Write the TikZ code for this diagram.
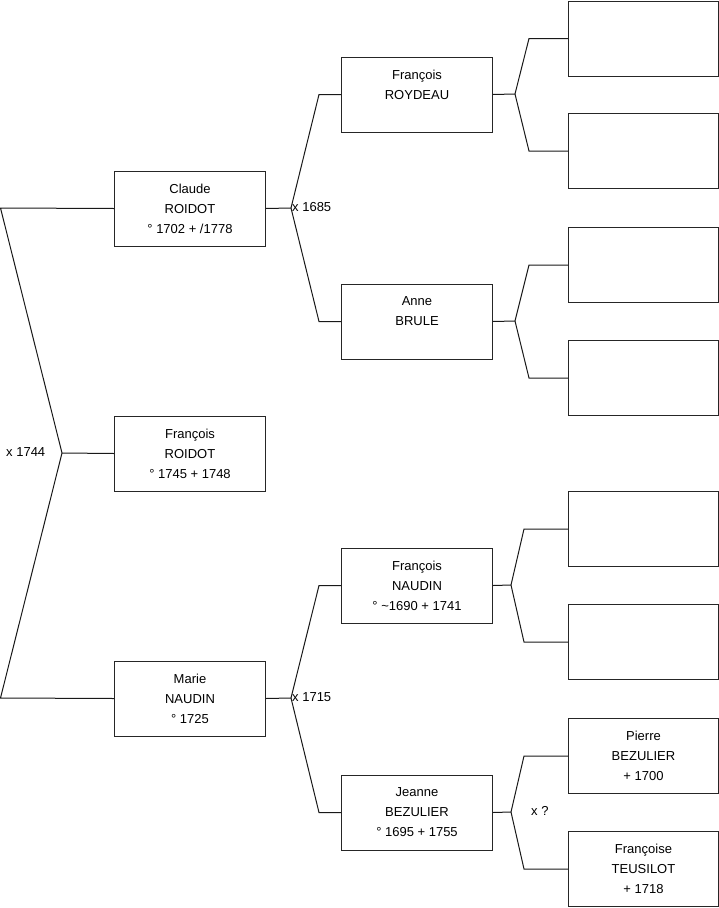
\documentclass[tikz,border=0pt]{standalone}
\usepackage{fontspec}
\setmainfont{Liberation Sans}
\begin{document}
\begin{tikzpicture}[x=1pt,y=-1pt,
  person/.style={draw=black!85, line width=1pt, minimum width=151pt, minimum height=75pt,
    anchor=north west, inner sep=0pt, align=center, font=\fontsize{13}{20}\selectfont},
  link/.style={draw=black!90, line width=1pt},
  lab/.style={anchor=west, inner sep=0pt, font=\fontsize{13}{15}\selectfont}]
\useasboundingbox (0,0) rectangle (719,908);
% generation 1
\node[person] (claude) at (114,170.5) {Claude\\ROIDOT\\° 1702 + /1778};
\node[person] (froidot) at (114,415.5) {François\\ROIDOT\\° 1745 + 1748};
\node[person] (marie) at (114,660.5) {Marie\\NAUDIN\\° 1725};
% generation 2
\node[person] (roydeau) at (341,56.5) {François\\ROYDEAU\\\mbox{}};
\node[person] (brule) at (341,283.5) {Anne\\BRULE\\\mbox{}};
\node[person] (fnaudin) at (341,547.5) {François\\NAUDIN\\° \textasciitilde1690 + 1741};
\node[person] (jeanne) at (341,774.5) {Jeanne\\BEZULIER\\° 1695 + 1755};
% generation 3
\node[person, minimum width=150pt] (r1) at (568,0.5) {};
\node[person, minimum width=150pt] (r2) at (568,113) {};
\node[person, minimum width=150pt] (r3) at (568,227) {};
\node[person, minimum width=150pt] (r4) at (568,340) {};
\node[person, minimum width=150pt] (r5) at (568,491) {};
\node[person, minimum width=150pt] (r6) at (568,604) {};
\node[person, minimum width=150pt] (pierre) at (568,718) {Pierre\\BEZULIER\\+ 1700};
\node[person, minimum width=150pt] (francoise) at (568,831) {Françoise\\TEUSILOT\\+ 1718};
% root connectors
\coordinate (a0) at (0.5,208);
\coordinate (a1) at (0.5,698);
\coordinate (j0) at (62,453);
\draw[link] (claude.west) -- (a0) -- (j0) -- (a1) -- (marie.west);
\draw[link] (j0) -- (froidot.west);
\node[lab] (m0) at (6,452) {x 1744};
% Claude parents
\coordinate (j1) at (291,208);
\draw[link] (claude.east) -- (j1) -- ([xshift=-22pt]roydeau.west) -- (roydeau.west);
\draw[link] (j1) -- ([xshift=-22pt]brule.west) -- (brule.west);
\node[lab] (m1) at (292,207) {x 1685};
% Marie parents
\coordinate (j2) at (291,698);
\draw[link] (marie.east) -- (j2) -- ([xshift=-22pt]fnaudin.west) -- (fnaudin.west);
\draw[link] (j2) -- ([xshift=-22pt]jeanne.west) -- (jeanne.west);
\node[lab] (m2) at (292,697) {x 1715};
% third generation connectors
\coordinate (j3) at (515,94);
\draw[link] (roydeau.east) -- (j3) -- ([xshift=-39pt]r1.west) -- (r1.west);
\draw[link] (j3) -- ([xshift=-39pt]r2.west) -- (r2.west);
\coordinate (j4) at (515,321);
\draw[link] (brule.east) -- (j4) -- ([xshift=-39pt]r3.west) -- (r3.west);
\draw[link] (j4) -- ([xshift=-39pt]r4.west) -- (r4.west);
\coordinate (j5) at (511,585);
\draw[link] (fnaudin.east) -- (j5) -- ([xshift=-44pt]r5.west) -- (r5.west);
\draw[link] (j5) -- ([xshift=-44pt]r6.west) -- (r6.west);
\coordinate (j6) at (511,812);
\draw[link] (jeanne.east) -- (j6) -- ([xshift=-44pt]pierre.west) -- (pierre.west);
\draw[link] (j6) -- ([xshift=-44pt]francoise.west) -- (francoise.west);
\node[lab] (m3) at (531,811) {x ?};
\end{tikzpicture}
\end{document}
